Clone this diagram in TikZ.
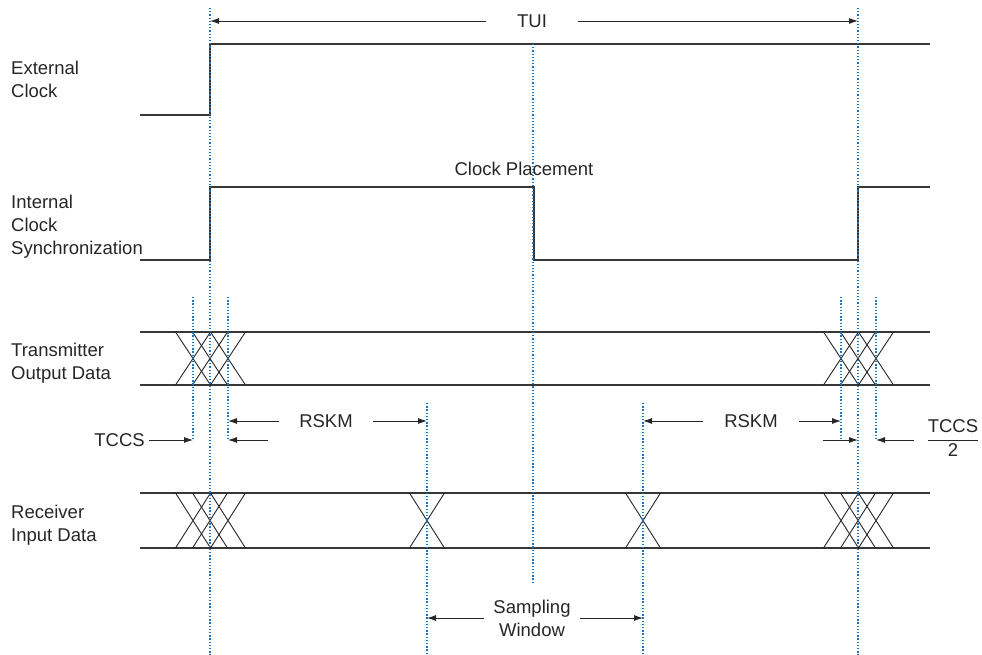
\documentclass[tikz,border=0pt]{standalone}
\usepackage{amsmath}
\usepackage{fontspec}
\setmainfont{Liberation Sans}
\usepackage{tikz}
\usetikzlibrary{arrows.meta,positioning,calc}
\definecolor{wavegray}{RGB}{55,55,55}
\definecolor{guideblue}{RGB}{25,118,195}
\tikzset{
  wave/.style = {draw = wavegray, line width = 1.3pt},
  cross/.style = {draw = black!85, line width = .9pt},
  guide/.style = {draw = guideblue, line width = 1.2pt, dash pattern = on 1.3pt off 1.9pt},
  dim/.style = {draw = black!85, line width = .9pt, -{Latex[length = 9pt, width = 6pt]}},
  lbl/.style = {font = \fontsize{18.5}{23}\selectfont, text = black!85},
  sig/.style = {lbl, anchor = north west, align = left, inner sep = 0},
}

\begin{document}
\begin{tikzpicture}[x = 1pt, y = -1pt]
\useasboundingbox (0,0) rectangle (982,655);
% Signal names
\node[sig] (ext) at (11,61) {External\\Clock};
\node[sig] (int) at (11,195) {Internal\\Clock\\Synchronization};
\node[sig] (tx) at (11,343) {Transmitter\\Output Data};
\node[sig] (rx) at (11,505) {Receiver\\Input Data};
% Clocks
\draw[wave] (140,115) -- (210,115) -- (210,44) -- (930,44);
\draw[wave] (140,260) -- (210,260) -- (210,187) -- (534,187) -- (534,260)
  -- (858,260) -- (858,187) -- (930,187);
% Data lanes
\foreach \hi/\lo in {332/385, 493/548} {
  \draw[wave] (140,\hi) -- (930,\hi);
  \draw[wave] (140,\lo) -- (930,\lo);
  \foreach \c in {193,210,228,841,858,876}
    \draw[cross] (\c-17.5,\hi) -- (\c+17.5,\lo) (\c-17.5,\lo) -- (\c+17.5,\hi);
}
\foreach \c in {427,643}
  \draw[cross] (\c-17.5,493) -- (\c+17.5,548) (\c-17.5,548) -- (\c+17.5,493);
% Guides
\coordinate (gA) at (210,8);
\coordinate (gB) at (858,8);
\coordinate (gM) at (533,44);
\coordinate (gT1) at (193,297);
\coordinate (gT2) at (228,297);
\coordinate (gT3) at (841,297);
\coordinate (gT4) at (876,297);
\coordinate (gS1) at (427,403);
\coordinate (gS2) at (643,403);
\draw[guide] (gA) -- ++(0,647);
\draw[guide] (gB) -- ++(0,647);
\draw[guide] (gM) -- ++(0,539);
\draw[guide] (gT1) -- ++(0,141);
\draw[guide] (gT2) -- ++(0,143);
\draw[guide] (gT3) -- ++(0,143);
\draw[guide] (gT4) -- ++(0,143);
\draw[guide] (gS1) -- ++(0,252);
\draw[guide] (gS2) -- ++(0,252);
% Period
\node[lbl, inner xsep = 31pt] (tui) at (532,21) {TUI};
\draw[dim] (tui.west) -- (tui.west -| gA);
\draw[dim] (tui.east) -- (tui.east -| gB);
\node[lbl] (place) at (524,169) {Clock Placement};
% Skew margins
\node[lbl, inner xsep = 20pt] (rskml) at (326,421) {RSKM};
\draw[dim] (rskml.west) -- (rskml.west -| gT2);
\draw[dim] (rskml.east) -- (rskml.east -| gS1);
\node[lbl, inner xsep = 21pt] (rskmr) at (751,421) {RSKM};
\draw[dim] (rskmr.west) -- (rskmr.west -| gS2);
\draw[dim] (rskmr.east) -- (rskmr.east -| gT3);
% Channel skew
\node[lbl, anchor = east, inner xsep = 4pt] (tccs) at (149,440) {TCCS};
\draw[dim] (tccs.east) -- (tccs.east -| gT1);
\coordinate (lt) at (268,440);
\draw[dim] (lt) -- (lt -| gT2);
\coordinate (rt) at (823,440);
\draw[dim] (rt) -- (rt -| gB);
\node[lbl, inner xsep = 12pt] (half) at (953,438) {$\dfrac{\text{TCCS}}{\text{2}}$};
\draw[dim] (half.west |- rt) -- (rt -| gT4);
% Sampling window
\node[lbl, align = center, inner xsep = 9pt] (samp) at (532,618) {Sampling\\Window};
\draw[dim] (samp.west) -- (samp.west -| gS1);
\draw[dim] (samp.east) -- (samp.east -| gS2);
\end{tikzpicture}
\end{document}
